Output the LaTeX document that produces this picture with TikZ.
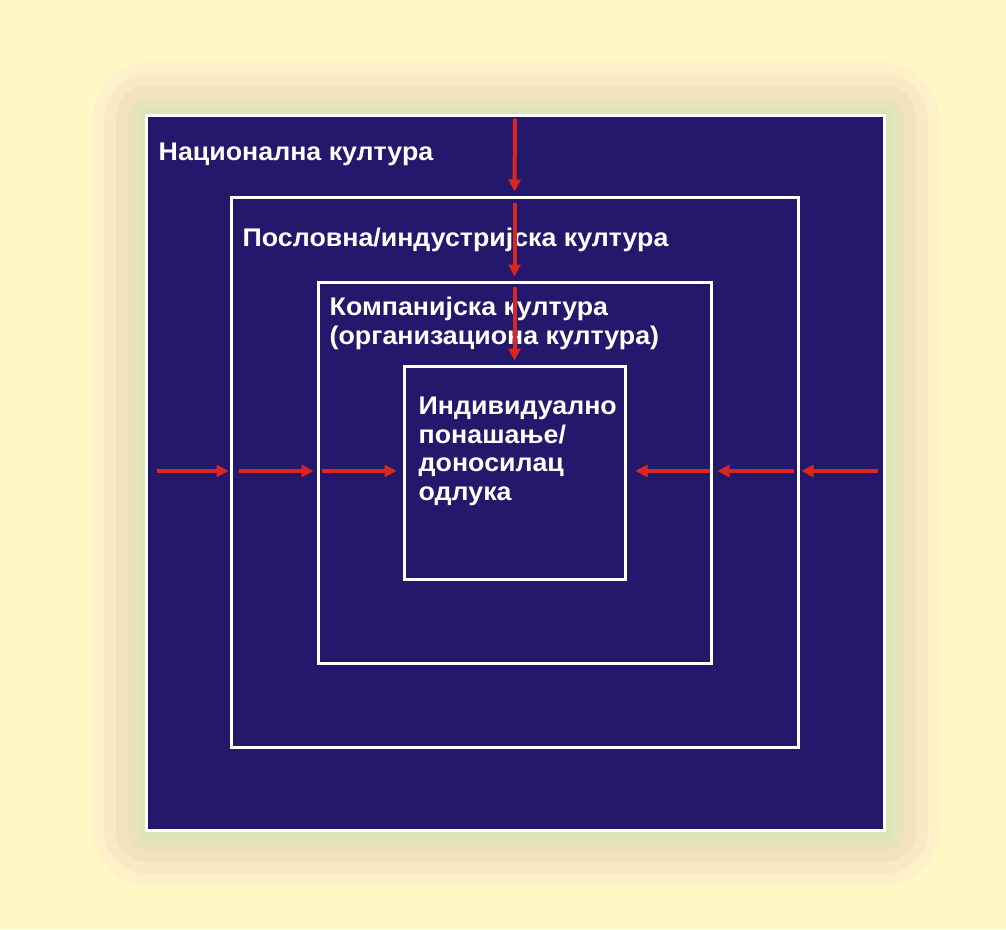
\documentclass[tikz,border=0pt]{standalone}
\usepackage{fontspec}
\setmainfont{Liberation Sans}
\newfontfamily\labelfont[FakeStretch=1.05]{Liberation Sans}
\usetikzlibrary{arrows.meta,calc}
\definecolor{paper}{HTML}{FFF8C4}
\definecolor{navy}{HTML}{24186C}
\definecolor{arrowred}{HTML}{D9261E}
\definecolor{glowA}{HTML}{FEF1C9}
\definecolor{glowB}{HTML}{F9EAC4}
\definecolor{glowC}{HTML}{F2E3BE}
\definecolor{glowD}{HTML}{E8E3BC}
\definecolor{glowE}{HTML}{DDE5B8}
\tikzset{
  layer/.style={draw=white, line width=3pt, fill=navy, rectangle, inner sep=0pt},
  label/.style={text=white, font=\labelfont\bfseries\fontsize{25.5}{29}\selectfont, anchor=base west, inner sep=0pt, align=left},
  flow/.style={draw=arrowred, line width=4pt, -{Triangle[length=12pt,width=12pt]}},
}
\begin{document}
\begin{tikzpicture}[x=1pt,y=-1pt]
  \fill[paper] (0,0) rectangle (1006,929);
  \useasboundingbox (0,0) rectangle (1006,929);
  % soft halo around the outer square
  \fill[glowA, rounded corners=60pt] (92,62) rectangle (940,886);
  \fill[glowB, rounded corners=45pt] (104,74) rectangle (928,874);
  \fill[glowC, rounded corners=32pt] (116,86) rectangle (916,862);
  \fill[glowD, rounded corners=20pt] (128,98) rectangle (904,850);
  \fill[glowE, rounded corners=10pt] (138,107) rectangle (894,840);
  % nested culture layers
  \node[layer, minimum width=738pt, minimum height=715pt] (b1) at (515,472.5) {};
  \node[layer, minimum width=567pt, minimum height=550pt] (b2) at (514.5,472) {};
  \node[layer, minimum width=393pt, minimum height=381pt] (b3) at (514.5,472.5) {};
  \node[layer, minimum width=221pt, minimum height=213pt] (b4) at (514.5,472.5) {};
  % labels (base anchor sits on the last line)
  \node[label] (t1) at ($(b1.north west)+(14,47)$) {Национална култура};
  \node[label] (t2) at ($(b2.north west)+(13,51)$) {Пословна/индустријска култура};
  \node[label] (t3) at ($(b3.north west)+(13,64)$) {Компанијска култура\\(организациона култура)};
  \node[label, font=\labelfont\bfseries\fontsize{25.5}{28.6}\selectfont] (t4) at ($(b4.north west)+(16,136)$) {Индивидуално\\понашање/\\доносилац\\одлука};
  % influence arrows from the top
  \draw[flow] ($(b1.north)+(0,5)$) -- ($(b2.north)+(0,-4)$);
  \draw[flow] ($(b2.north)+(0,7)$) -- ($(b3.north)+(0,-4)$);
  \draw[flow] ($(b3.north)+(0,6)$) -- ($(b4.north)+(0,-4)$);
  % influence arrows from the left
  \draw[flow] ($(b1.west)+(12,-1.5)$) -- ($(b2.west)+(-1,-1)$);
  \draw[flow] ($(b2.west)+(9,-1)$) -- ($(b3.west)+(-3,-1.5)$);
  \draw[flow] ($(b3.west)+(5,-1.5)$) -- ($(b4.west)+(-6,-1.5)$);
  % influence arrows from the right
  \draw[flow] ($(b1.east)+(-8,-1.5)$) -- ($(b2.east)+(2,-1)$);
  \draw[flow] ($(b2.east)+(-6,-1)$) -- ($(b3.east)+(5,-1.5)$);
  \draw[flow] ($(b3.east)+(-3,-1.5)$) -- ($(b4.east)+(9,-1.5)$);
\end{tikzpicture}
\end{document}
